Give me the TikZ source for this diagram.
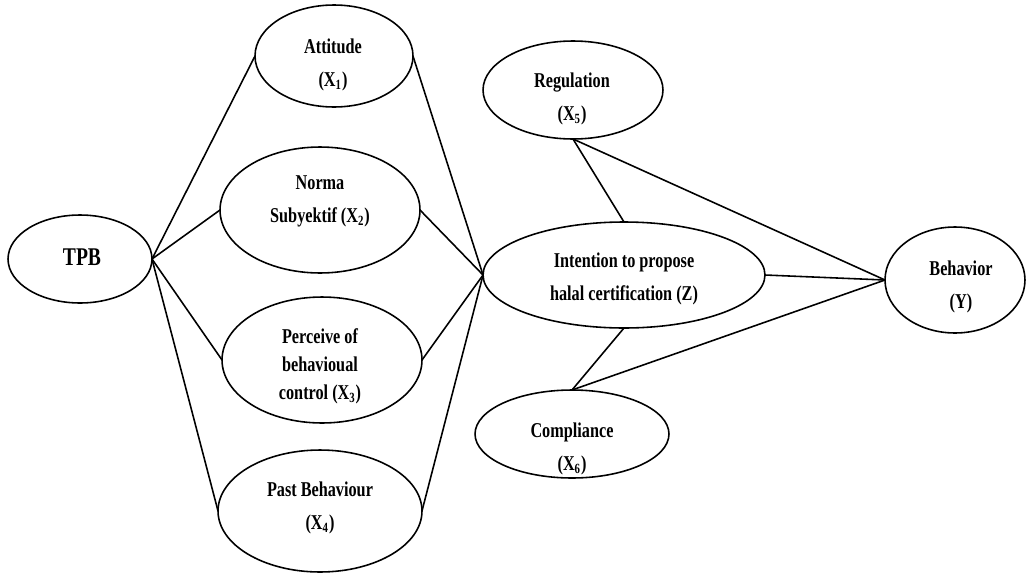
\documentclass[tikz,border=0pt]{standalone}
\usepackage{fontspec}
\setmainfont{Liberation Serif}[FakeStretch=0.77]
\usetikzlibrary{shapes.geometric}
\tikzset{
  ell/.style={draw, ellipse, line width=0.9pt, inner sep=0pt, outer sep=0pt},
  lbl/.style={inner sep=0pt, align=center, font=\bfseries\fontsize{12}{18.8}\selectfont},
  conn/.style={line width=0.9pt}
}
\begin{document}
\begin{tikzpicture}[x=0.02cm,y=-0.02cm]
\useasboundingbox (0,0) rectangle (1027,575);
% ellipses
\node[ell, minimum width=2.88cm, minimum height=1.76cm] (tpb) at (80,259) {};
\node[ell, minimum width=3.16cm, minimum height=2.04cm] (att) at (334,56) {};
\node[ell, minimum width=4.0cm, minimum height=2.52cm] (nor) at (320,210) {};
\node[ell, minimum width=4.0cm, minimum height=2.52cm] (per) at (322,360) {};
\node[ell, minimum width=4.08cm, minimum height=2.44cm] (pas) at (320,511) {};
\node[ell, minimum width=3.6cm, minimum height=1.96cm] (reg) at (573,90) {};
\node[ell, minimum width=5.64cm, minimum height=2.12cm] (int) at (624,275) {};
\node[ell, minimum width=3.88cm, minimum height=1.76cm] (com) at (572,434) {};
\node[ell, minimum width=2.8cm, minimum height=2.12cm] (beh) at (955,280) {};
% labels
\node[lbl, font=\bfseries\fontsize{14.5}{17}\selectfont] (ttpb) at (82,257) {TPB};
\node[lbl] (tatt) at (333,65) {Attitude\\(X\textsubscript{1})};
\node[lbl] (tnor) at (320,201) {Norma\\Subyektif (X\textsubscript{2})};
\node[lbl, font=\bfseries\fontsize{12}{16}\selectfont] (tper) at (320,366) {Perceive of\\behavioual\\control (X\textsubscript{3})};
\node[lbl] (tpas) at (320,508) {Past Behaviour\\(X\textsubscript{4})};
\node[lbl] (treg) at (572,99) {Regulation\\(X\textsubscript{5})};
\node[lbl] (tint) at (624,279) {Intention to propose\\halal certification (Z)};
\node[lbl] (tcom) at (572,449) {Compliance\\(X\textsubscript{6})};
\node[lbl] (tbeh) at (961,287) {Behavior\\(Y)};
% connectors
\draw[conn] (tpb.east) -- (att.west);
\draw[conn] (tpb.east) -- (nor.west);
\draw[conn] (tpb.east) -- (per.west);
\draw[conn] (tpb.east) -- (pas.west);
\draw[conn] (att.east) -- (int.west);
\draw[conn] (nor.east) -- (int.west);
\draw[conn] (per.east) -- (int.west);
\draw[conn] (pas.east) -- (int.west);
\draw[conn] (reg.south) -- (int.north);
\draw[conn] (reg.south) -- (beh.west);
\draw[conn] (com.north) -- (int.south);
\draw[conn] (com.north) -- (beh.west);
\draw[conn] (int.east) -- (beh.west);
\end{tikzpicture}
\end{document}
